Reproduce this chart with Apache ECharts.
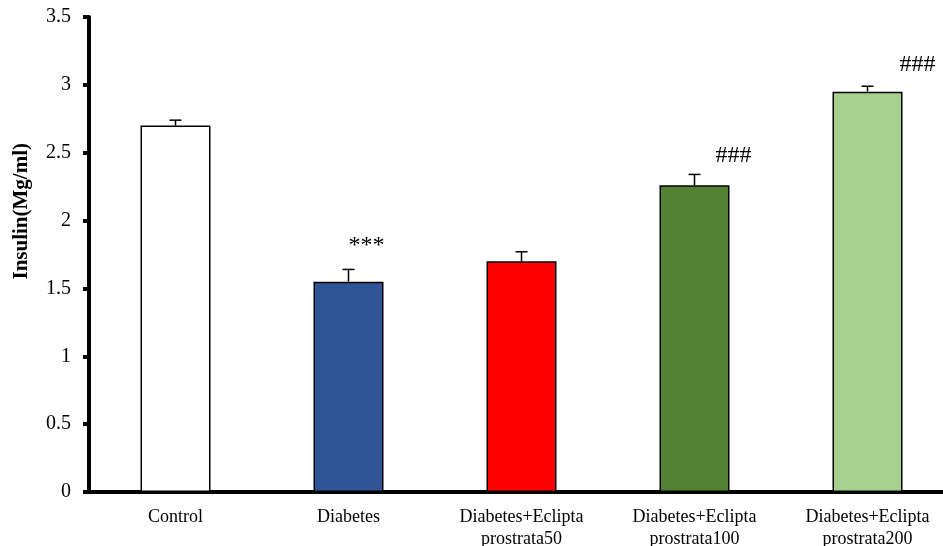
<!DOCTYPE html>
<html>
<head>
<meta charset="utf-8">
<script src="https://cdn.jsdelivr.net/npm/echarts@6/dist/echarts.min.js"></script>
<style>html,body{margin:0;padding:0;background:#fff}#c{width:943px;height:546px}</style>
</head>
<body>
<div id="c"></div>
<script>
const categories = ['Control', 'Diabetes', 'Diabetes+Eclipta\nprostrata50', 'Diabetes+Eclipta\nprostrata100', 'Diabetes+Eclipta\nprostrata200'];
const insulinMean = [2.70, 1.55, 1.70, 2.26, 2.95];
const insulinError = [0.04, 0.09, 0.07, 0.08, 0.04];
const significance = ['', '***', '', '###', '###'];
const yTicks = [0, 0.5, 1, 1.5, 2, 2.5, 3, 3.5];

const barColors = ['#FFFFFF', '#2F5597', '#FF0000', '#548235', '#A9D18E'];
const annotOffsetX = [0, 18, 0, 39, 50];
const annotOffsetY = [0, -24, 0, -19, -22];
const FONT = '"Liberation Serif", "Times New Roman", serif';

const chart = echarts.init(document.getElementById('c'), null, {renderer: 'canvas'});
chart.setOption({
  animation: false,
  backgroundColor: '#fff',
  grid: {left: 89, width: 865, top: 17, bottom: 54, containLabel: false, outerBoundsMode: 'none'},
  xAxis: {
    type: 'category',
    data: categories,
    boundaryGap: true,
    axisLine: {lineStyle: {color: '#000', width: 4}},
    axisTick: {show: false},
    axisLabel: {color: '#000', fontFamily: FONT, fontSize: 18, lineHeight: 22, margin: 14, interval: 0}
  },
  yAxis: {
    type: 'value',
    min: yTicks[0],
    max: yTicks[yTicks.length - 1],
    interval: 0.5,
    splitLine: {show: false},
    axisLine: {show: true, lineStyle: {color: '#000', width: 4}},
    axisTick: {show: true, length: 6, lineStyle: {color: '#000', width: 4}},
    axisLabel: {color: '#000', fontFamily: FONT, fontSize: 20, margin: 18,
      formatter: v => String(v)}
  },
  graphic: [{
    type: 'text',
    left: 11, top: 143,
    rotation: Math.PI / 2,
    originX: 0, originY: 0,
    style: {text: 'Insulin(Mg/ml)', font: 'bold 21px ' + FONT, fill: '#000'}
  }],
  series: [
    {
      type: 'bar',
      barWidth: 70,
      data: insulinMean.map((v, i) => ({value: v, itemStyle: {color: barColors[i]}})),
      itemStyle: {borderColor: '#000', borderWidth: 1.5},
      z: 2
    },
    {
      type: 'custom',
      z: 3,
      data: insulinMean.map((v, i) => [i, v, v + insulinError[i]]),
      renderItem: function (params, api) {
        const base = api.coord([api.value(0), api.value(1)]);
        const top = api.coord([api.value(0), api.value(2)]);
        const x = base[0];
        const hw = 6;
        return {
          type: 'group',
          children: [
            {type: 'line', shape: {x1: x, y1: base[1], x2: x, y2: top[1]}, style: {stroke: '#000', lineWidth: 1.5}},
            {type: 'line', shape: {x1: x - hw, y1: top[1], x2: x + hw, y2: top[1]}, style: {stroke: '#000', lineWidth: 1.5}}
          ]
        };
      }
    },
    {
      type: 'custom',
      z: 4,
      data: insulinMean.map((v, i) => [i, v + insulinError[i]]),
      renderItem: function (params, api) {
        const i = params.dataIndex;
        if (!significance[i]) return null;
        const p = api.coord([api.value(0), api.value(1)]);
        return {
          type: 'text',
          x: p[0] + annotOffsetX[i],
          y: p[1] + annotOffsetY[i],
          style: {text: significance[i], font: '24px ' + FONT, fill: '#000',
            textAlign: 'center', textVerticalAlign: 'middle'}
        };
      }
    }
  ]
});
</script>
</body>
</html>
